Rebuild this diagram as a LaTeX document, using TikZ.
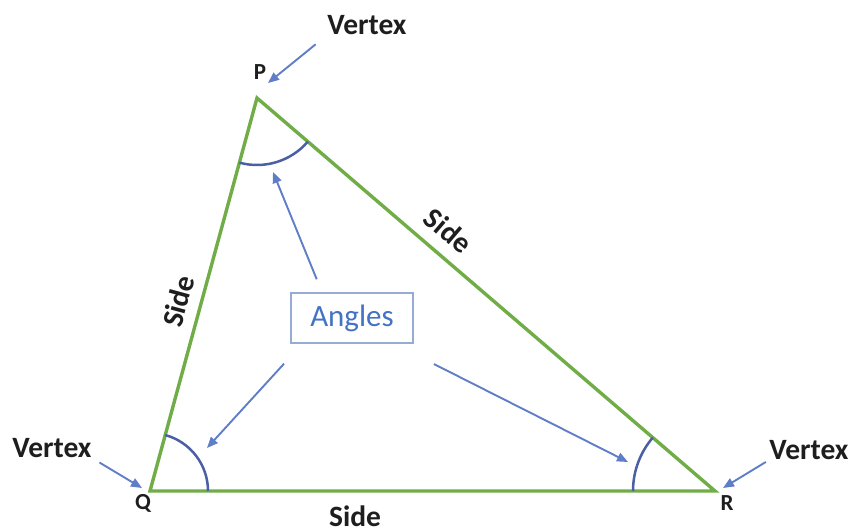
\documentclass[tikz,border=0pt]{standalone}
\usepackage{fontspec}
\setmainfont{Carlito}
\usetikzlibrary{positioning,arrows.meta,calc,angles}
\definecolor{ink}{RGB}{30,30,30}
\definecolor{sidegreen}{RGB}{112,173,71}
\definecolor{arrowblue}{RGB}{95,125,200}
\definecolor{arcblue}{RGB}{75,95,165}
\definecolor{boxblue}{RGB}{150,172,215}
\definecolor{textblue}{RGB}{68,114,196}
\tikzset{
  lbl/.style={font=\fontsize{29.5}{31}\selectfont\bfseries, text=ink, inner sep=0pt},
  vlbl/.style={font=\fontsize{23}{25}\selectfont\bfseries, text=ink, inner sep=0pt},
  side/.style={draw=sidegreen, line width=3.4pt},
  pointer/.style={-{Triangle[length=11pt,width=9pt]}, line width=1.9pt, draw=arrowblue},
  anglearc/.style={draw=arcblue, line width=2.5pt},
  anglebox/.style={draw=boxblue, line width=1.5pt, minimum width=122pt, minimum height=50pt,
    inner sep=0pt, font=\fontsize{31}{33}\selectfont, text=textblue},
}

\begin{document}
\begin{tikzpicture}[x=1pt, y=1pt]
  \useasboundingbox (0,0) rectangle (853,531);
  % vertices
  \coordinate (P) at (257,433);
  \coordinate (Q) at (150,40);
  \coordinate (R) at (715,40);
  \draw[side] (Q) -- (R) -- (P) -- cycle;
  % angle marks
  \pic[anglearc, angle radius=67pt] {angle=Q--P--R};
  \pic[anglearc, angle radius=58pt] {angle=R--Q--P};
  \pic[anglearc, angle radius=82pt] {angle=P--R--Q};
  % side labels
  \path (Q) -- node[lbl, sloped, above=12pt, pos=0.468] (sideQP) {Side} (P);
  \path (P) -- node[lbl, sloped, above=13pt, pos=0.384] (sidePR) {Side} (R);
  \path (Q) -- node[lbl, below=15pt, pos=0.363] (sideQR) {Side} (R);
  % vertex names
  \node[vlbl] (labP) at (260,459) {P};
  \node[vlbl] (labQ) at (143,28) {Q};
  \node[vlbl] (labR) at (727,28) {R};
  % vertex callouts
  \node[lbl] (vtop) at (367,506) {Vertex};
  \node[lbl] (vleft) at (52,83) {Vertex};
  \node[lbl] (vright) at (809,81) {Vertex};
  \coordinate (tipP) at (268,448);
  \coordinate (tipQ) at (142,43);
  \coordinate (tipR) at (723,43);
  \draw[pointer, shorten <=15pt] (vtop.south west) -- (tipP);
  \draw[pointer, shorten <=9pt] (vleft.south east) -- (tipQ);
  \draw[pointer, shorten <=4pt] (vright.south west) -- (tipR);
  % angle callout
  \node[anglebox] (ang) at (352,213) {Angles};
  \coordinate (tipAP) at (273,359);
  \coordinate (tipAQ) at (207,83);
  \coordinate (tipAR) at (628,69);
  \draw[pointer, shorten <=14pt] ($(ang.north)+(-30,0)$) -- (tipAP);
  \draw[pointer, shorten <=27pt] ($(ang.south west)+(12,0)$) -- (tipAQ);
  \draw[pointer, shorten <=45pt] ($(ang.south east)+(-20,0)$) -- (tipAR);
\end{tikzpicture}
\end{document}
